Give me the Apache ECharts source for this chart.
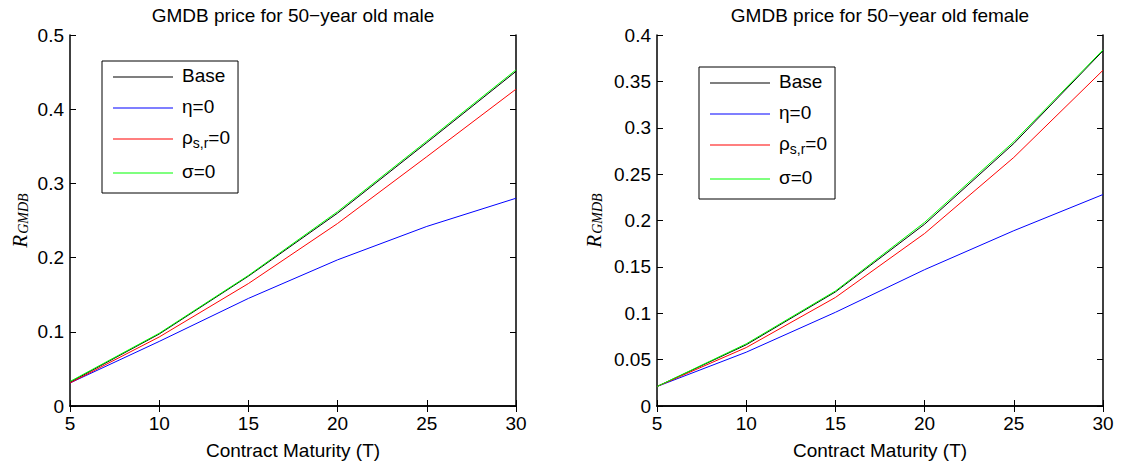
<!DOCTYPE html>
<html>
<head>
<meta charset="utf-8">
<script src="https://cdn.jsdelivr.net/npm/echarts@6/dist/echarts.min.js"></script>
<style>
  html, body { margin: 0; padding: 0; background: #fff; }
  #chart { width: 1123px; height: 465px; }
</style>
</head>
<body>
<div id="chart"></div>
<script>
// contract maturities (T)
var maturities = [5, 10, 15, 20, 25, 30]

// 50-year old male
var maleBase = [0.032, 0.097, 0.175, 0.260, 0.355, 0.451]
var maleEta = [0.031, 0.087, 0.145, 0.197, 0.242, 0.280]
var maleRho = [0.031, 0.093, 0.165, 0.246, 0.336, 0.427]
var maleSigma = [0.033, 0.098, 0.176, 0.262, 0.357, 0.453]

// 50-year old female
var femaleBase = [0.021, 0.066, 0.123, 0.196, 0.283, 0.383]
var femaleEta = [0.021, 0.058, 0.101, 0.147, 0.189, 0.228]
var femaleRho = [0.021, 0.063, 0.117, 0.186, 0.268, 0.362]
var femaleSigma = [0.021, 0.067, 0.124, 0.198, 0.285, 0.384]

var seriesNames = ['Base', 'η=0', 'ρs,r=0', 'σ=0']
var seriesColors = ['#000000', '#0000ff', '#ff0000', '#00ff00']
var titles = ['GMDB price for 50\u2212year old male', 'GMDB price for 50\u2212year old female']
var xName = 'Contract Maturity (T)'

var FONT = '"Liberation Sans", Arial, Helvetica, sans-serif'
var SERIF = '"Liberation Serif", "DejaVu Serif", serif'

function pairs(ys) {
  return maturities.map(function (t, i) { return [t, ys[i]] })
}

var lineAxis = { show: true, lineStyle: { color: '#000', width: 1.5 } }
var tickIn = { show: true, inside: true, length: 6, lineStyle: { color: '#000', width: 1 } }

function xAxes(gridIndex) {
  return [
    {
      gridIndex: gridIndex, type: 'value', position: 'bottom',
      min: 5, max: 30, interval: 5,
      name: xName, nameLocation: 'middle', nameGap: 35,
      nameTextStyle: { fontFamily: FONT, fontSize: 19, color: '#000' },
      axisLine: lineAxis, axisTick: tickIn,
      axisLabel: { fontFamily: FONT, fontSize: 19, color: '#000', margin: 8 },
      splitLine: { show: false }
    },
    {
      gridIndex: gridIndex, type: 'value', position: 'top',
      min: 5, max: 30, interval: 5,
      axisLine: lineAxis, axisTick: tickIn,
      axisLabel: { show: false }, splitLine: { show: false }
    }
  ]
}

function yAxes(gridIndex, max, interval, nameGap) {
  return [
    {
      gridIndex: gridIndex, type: 'value', position: 'left',
      min: 0, max: max, interval: interval,
      name: '{r|R}{s|GMDB}', nameLocation: 'middle', nameGap: nameGap,
      nameTextStyle: {
        color: '#000',
        rich: {
          r: { fontFamily: SERIF, fontStyle: 'italic', fontSize: 21, color: '#000', verticalAlign: 'top', lineHeight: 21 },
          s: { fontFamily: SERIF, fontStyle: 'italic', fontSize: 14, color: '#000', verticalAlign: 'bottom', lineHeight: 14, padding: [10, 0, 0, 1] }
        }
      },
      axisLine: lineAxis, axisTick: tickIn,
      axisLabel: { fontFamily: FONT, fontSize: 19, color: '#000', margin: 6 },
      splitLine: { show: false }
    },
    {
      gridIndex: gridIndex, type: 'value', position: 'right',
      min: 0, max: max, interval: interval,
      axisLine: lineAxis, axisTick: tickIn,
      axisLabel: { show: false }, splitLine: { show: false }
    }
  ]
}

function makeSeries(gridIndex, lists) {
  return lists.map(function (ys, i) {
    return {
      name: seriesNames[i], type: 'line',
      xAxisIndex: gridIndex * 2, yAxisIndex: gridIndex * 2,
      data: pairs(ys),
      showSymbol: false, symbol: 'none', smooth: false,
      color: seriesColors[i],
      lineStyle: { color: seriesColors[i], width: 1 },
      emphasis: { disabled: true },
      z: 2 + i
    }
  })
}

function makeLegend(left, top) {
  return {
    orient: 'vertical', left: left, top: top,
    data: seriesNames,
    icon: 'rect', itemWidth: 60, itemHeight: 1, itemGap: 12,
    padding: [5, 8, 12, 11],
    borderColor: '#000', borderWidth: 1, backgroundColor: '#fff',
    selectedMode: false,
    formatter: function (name) {
      if (name === 'ρs,r=0') return '{a|ρ}{sub|s,r}{a|=0}'
      return '{a|' + name + '}'
    },
    textStyle: {
      fontFamily: FONT, fontSize: 19, color: '#000',
      padding: [0, 0, 0, 4],
      rich: {
        a: { fontFamily: FONT, fontSize: 19, color: '#000', lineHeight: 22, verticalAlign: 'top' },
        sub: { fontFamily: FONT, fontSize: 14, color: '#000', lineHeight: 14, verticalAlign: 'bottom', padding: [8, 0, 0, 0] }
      }
    }
  }
}

var chart = echarts.init(document.getElementById('chart'), null, { renderer: 'svg' })

chart.setOption({
  backgroundColor: '#fff',
  animation: false,
  title: [
    { text: titles[0], left: 293, top: 6, textAlign: 'center', padding: 0,
      textStyle: { fontFamily: FONT, fontSize: 19, fontWeight: 'normal', color: '#000' } },
    { text: titles[1], left: 880, top: 6, textAlign: 'center', padding: 0,
      textStyle: { fontFamily: FONT, fontSize: 19, fontWeight: 'normal', color: '#000' } }
  ],
  grid: [
    { left: 70, top: 35, width: 446, height: 375, containLabel: false },
    { left: 657, top: 35, width: 446, height: 375, containLabel: false }
  ],
  legend: [makeLegend(102, 61), makeLegend(699, 67)],
  xAxis: xAxes(0).concat(xAxes(1)),
  yAxis: yAxes(0, 0.5, 0.1, 40).concat(yAxes(1, 0.4, 0.05, 53)),
  series: makeSeries(0, [maleBase, maleEta, maleRho, maleSigma])
    .concat(makeSeries(1, [femaleBase, femaleEta, femaleRho, femaleSigma]))
})
</script>
</body>
</html>
